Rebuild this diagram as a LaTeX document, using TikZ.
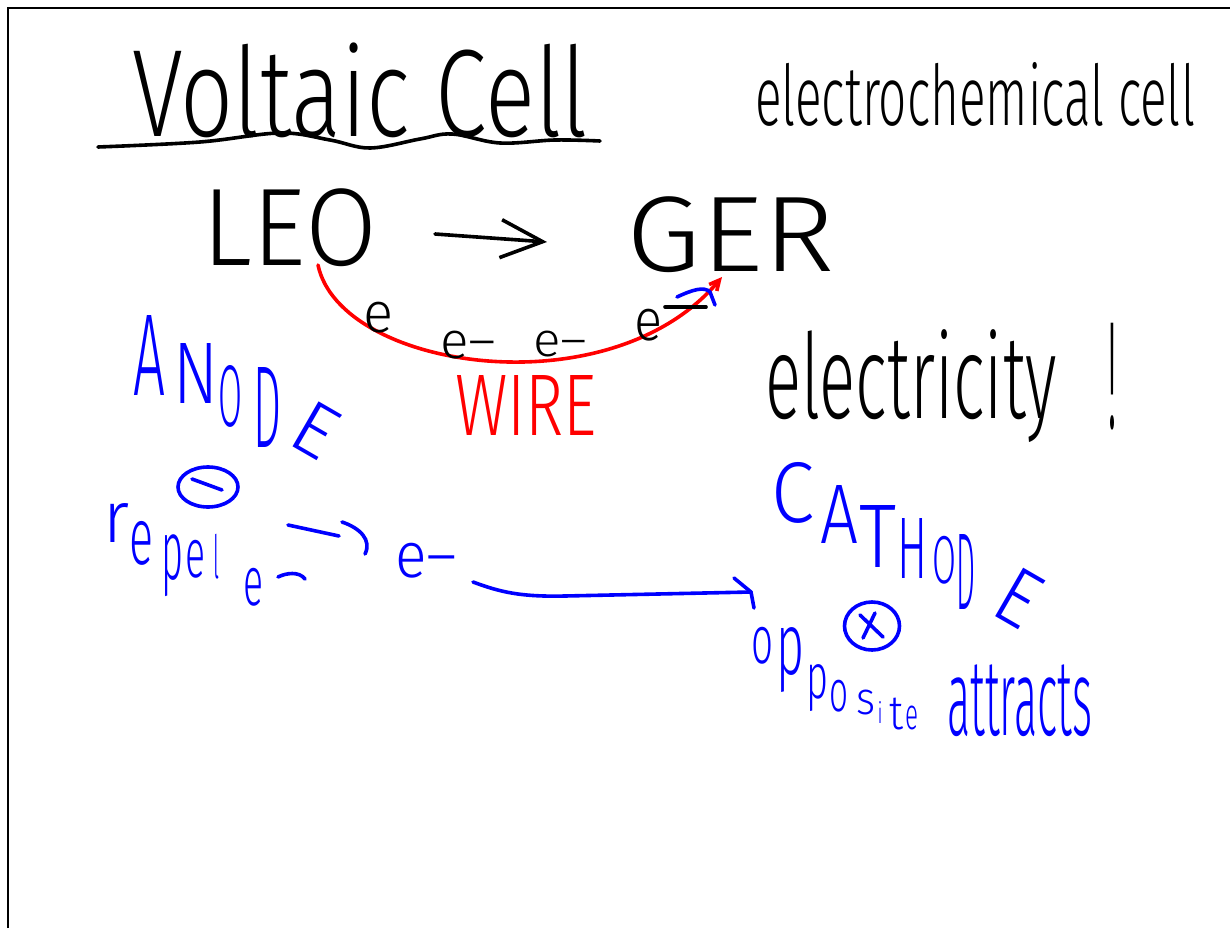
\documentclass[tikz,border=0pt]{standalone}
\usepackage{fontspec}
\setmainfont{Fira Sans Light}
\usetikzlibrary{arrows.meta,calc,shapes.geometric}
\newcommand{\fitto}[3]{\resizebox*{#1pt}{#2pt}{#3}}
\definecolor{inkblue}{RGB}{0,0,255}
\definecolor{inkred}{RGB}{255,0,0}
\begin{document}
\begin{tikzpicture}[x=1pt,y=-1pt,
  ink/.style={line width=3.6pt, line cap=round, line join=round},
  bk/.style={ink, black},
  bl/.style={ink, inkblue},
  rd/.style={ink, inkred},
  hw/.style={inner sep=0pt, outer sep=0pt, font=\fontsize{60}{60}\selectfont},
  hwb/.style={hw, text=inkblue},
  hwr/.style={hw, text=inkred},
  ring/.style={ellipse, draw=inkblue, line width=3.6pt, inner sep=0pt},
]
\useasboundingbox (0,0) rectangle (1230,928);
\draw[line width=2pt] (8,928) -- (8,8) -- (1230,8);

% title
\node[hw] (title) at (360,90) {\fitto{456}{95}{Voltaic Cell}};
\draw[bk] plot[smooth, tension=0.6] coordinates {(98,147) (200,142) (280,133) (330,140) (370,148) (420,139) (452,134) (500,143) (555,140) (600,141)};
\node[hw] (sub) at (975,94) {\fitto{440}{64}{electrochemical cell}};

% LEO -> GER
\node[hw] (leo) at (290,228) {\fitto{174}{78}{LEO}};
\node[hw] (ger) at (731,235) {\fitto{208}{76}{GER}};
\draw[bk, -{Straight Barb[length=42pt, width=38pt, line width=3.6pt]}]
  ($(leo.east)+(58,6)$) -- ($(ger.west)+(-80,7)$);

% wire
\coordinate (w0) at ($(leo.south)+(28,-2)$);
\coordinate (w1) at (722,277);
\draw[rd, -{Straight Barb[length=10pt, width=10pt]}] (w0) .. controls (340,370) and (610,410) .. (w1);
\node[hw] (e1) at (378,318) {\fitto{30}{31}{e}};
\node[hw] (e2) at (468,345) {\fitto{56}{28}{e–}};
\node[hw] (e3) at (560,344) {\fitto{54}{26}{e–}};
\node[hw] (e4) at (648,325) {\fitto{28}{32}{e}};
\draw[bk] ($(e4.north east)+(3,-2)$) coordinate (d0) -- ++(41,0) coordinate (d1);
\draw[bl] (677,297) .. controls (692,290) and (704,286) .. (710,292) -- (715,305);
\node[hwr] (wire) at (526,405) {\fitto{142}{60}{WIRE}};

% electricity
\node[hw] (elec) at (911,386) {\fitto{292}{113}{electricity}};
\node[hw] (bang) at (1112,377) {\fitto{10}{107}{!}};

% ANODE
\node[hwb] (an1) at (149,355) {\fitto{32}{80}{A}};
\node[hwb] (an2) at (196,373) {\fitto{45}{60}{N}};
\node[hwb] (an3) at (230,396) {\fitto{24}{62}{O}};
\node[hwb] (an4) at (267,407) {\fitto{28}{80}{D}};
\node[hwb, rotate=-30] (an5) at (316,430) {\fitto{40}{52}{E}};
\node[ring, minimum width=60pt, minimum height=40pt] (minus) at (208,487) {};
\draw[bl] ($(minus.center)+(-16,-8)$) -- ($(minus.center)+(14,3)$);

% repel
\node[hwb] (r1) at (116,523) {\fitto{26}{39}{r}};
\node[hwb] (r2) at (141,543) {\fitto{24}{44}{e}};
\node[hwb] (r3) at (172,566) {\fitto{22}{62}{p}};
\node[hwb] (r4) at (195,559) {\fitto{20}{38}{e}};
\node[hwb] (r5) at (216,557) {\fitto{6}{45}{l}};
\node[hwb] (esub) at (253,587) {\fitto{20}{38}{e}};
\draw[bl] ($(esub.east)+(15,-10)$) .. controls ++(8,-4) and ++(-6,-8) .. ++(27,2);
\draw[bl] (288,525) -- (339,536);
\draw[bl] (342,522) .. controls (360,528) and (372,540) .. (365,554);
\node[hwb] (ebl) at (426,561) {\fitto{62}{35}{e–}};
\coordinate (aend) at (751,592);
\draw[bl] ($(ebl.east)+(16,21)$) .. controls (500,592) and (520,597) .. (565,596) -- (aend);
\draw[bl] ($(aend)+(-17,-14)$) -- (aend) -- ($(aend)+(3,16)$);

% CATHODE
\node[hwb] (ca1) at (793,493) {\fitto{43}{61}{C}};
\node[hwb] (ca2) at (839,514) {\fitto{38}{58}{A}};
\node[hwb] (ca3) at (878,536) {\fitto{37}{62}{T}};
\node[hwb] (ca4) at (912,548) {\fitto{30}{60}{H}};
\node[hwb] (ca5) at (944,560) {\fitto{24}{48}{O}};
\node[hwb] (ca6) at (966,572) {\fitto{19}{75}{D}};
\node[hwb, rotate=-30] (ca7) at (1019,598) {\fitto{38}{56}{E}};
\node[ring, minimum width=55pt, minimum height=48pt] (plus) at (872,626) {};
\draw[bl] ($(plus.center)+(-12,-11)$) -- ($(plus.center)+(11,11)$);
\draw[bl] ($(plus.center)+(3,-13)$) -- ($(plus.center)+(-9,12)$);

% opposite attracts
\node[hwb] (o1) at (762,646) {\fitto{22}{37}{o}};
\node[hwb] (o2) at (790,660) {\fitto{28}{65}{p}};
\node[hwb] (o3) at (817,688) {\fitto{22}{47}{p}};
\node[hwb] (o4) at (839,696) {\fitto{19}{32}{o}};
\node[hwb] (o5) at (866,702) {\fitto{19}{25}{s}};
\node[hwb] (o6) at (880,712) {\fitto{5}{22}{i}};
\node[hwb] (o7) at (896,714) {\fitto{14}{32}{t}};
\node[hwb] (o8) at (912,718) {\fitto{13}{24}{e}};
\node[hwb] (att) at (1020,701) {\fitto{145}{72}{attracts}};
\end{tikzpicture}
\end{document}
